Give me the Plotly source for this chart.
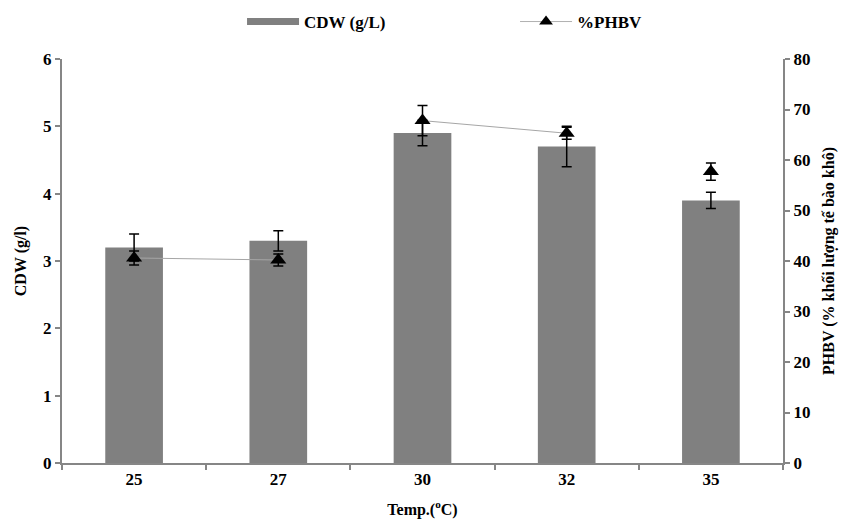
import plotly.graph_objects as go

temps = ["25", "27", "30", "32", "35"]
cdw = [3.2, 3.3, 4.9, 4.7, 3.9]
cdw_err = [0.2, 0.15, 0.19, 0.3, 0.12]
phbv = [40.6, 40.2, 67.8, 65.3, 57.7]
phbv_err = [1.4, 1.2, 3.0, 1.2, 1.7]
line_segments = [[0, 1], [2, 3]]

FONT = "Liberation Serif"
AX = "#868686"

line_x, line_y = [], []
for seg in line_segments:
    for i in seg:
        line_x.append(temps[i])
        line_y.append(phbv[i])
    line_x.append(None)
    line_y.append(None)

fig = go.Figure()
fig.add_trace(go.Bar(
    x=temps, y=cdw, name="CDW (g/L)", marker=dict(color="#808080", line=dict(width=0)),
    error_y=dict(type="data", array=cdw_err, color="black", thickness=1.5, width=5),
    showlegend=False, yaxis="y"))
fig.add_trace(go.Scatter(
    x=line_x, y=line_y, mode="lines", line=dict(color="#a6a6a6", width=1),
    yaxis="y2", showlegend=False, connectgaps=False, hoverinfo="skip"))
fig.add_trace(go.Scatter(
    x=temps, y=phbv, mode="markers", name="%PHBV",
    marker=dict(symbol="triangle-up", size=14, color="black"),
    error_y=dict(type="data", array=phbv_err, color="black", thickness=1.5, width=5),
    yaxis="y2", showlegend=False))
# legend entries
fig.add_trace(go.Scatter(
    x=[None], y=[None], mode="lines", name="CDW (g/L)",
    line=dict(color="#808080", width=7), yaxis="y", showlegend=True))
fig.add_trace(go.Scatter(
    x=[None], y=[None], mode="lines+markers", name="%PHBV",
    line=dict(color="#b0b0b0", width=1),
    marker=dict(symbol="triangle-up", size=12, color="black"),
    yaxis="y2", showlegend=True))

fig.update_layout(
    width=845, height=523,
    margin=dict(l=62, r=62, t=59, b=60, autoexpand=False),
    paper_bgcolor="white", plot_bgcolor="white",
    font=dict(family=FONT, size=17, color="black"),
    bargap=0.6,
    legend=dict(orientation="h", x=0.2497, xanchor="left", y=1.0916, yanchor="middle",
                font=dict(family=FONT, size=17, color="black", weight="bold"),
                entrywidth=206, entrywidthmode="pixels", itemwidth=52),
    xaxis=dict(type="category", showline=True, linecolor=AX, linewidth=2,
               ticks="outside", tickson="boundaries", ticklen=5, tickcolor=AX, tickwidth=1.5,
               tickfont=dict(family=FONT, size=17, weight="bold"),
               title=dict(text="Temp.(<sup>o</sup>C)", font=dict(family=FONT, size=16, weight="bold"), standoff=15),
               showgrid=False, zeroline=False),
    yaxis=dict(range=[0, 6], dtick=1, showline=True, linecolor=AX, linewidth=2,
               ticks="outside", ticklen=5, tickcolor=AX, tickwidth=1.5,
               tickfont=dict(family=FONT, size=17, weight="bold"),
               title=dict(text="CDW (g/l)", font=dict(family=FONT, size=16, weight="bold"), standoff=12),
               showgrid=False, zeroline=False),
    yaxis2=dict(range=[0, 80], dtick=10, overlaying="y", side="right", showline=True,
                linecolor=AX, linewidth=2, ticks="outside", ticklen=5, tickcolor=AX, tickwidth=1.5,
                tickfont=dict(family=FONT, size=17, weight="bold"),
                title=dict(text="PHBV (% khối lượng tế bào khô)", font=dict(family=FONT, size=16, weight="bold"), standoff=13),
                showgrid=False, zeroline=False),
)

fig.write_html("out.html", config={"displayModeBar": False},
               post_script="document.body.style.margin='0';document.body.style.overflow='hidden';")
